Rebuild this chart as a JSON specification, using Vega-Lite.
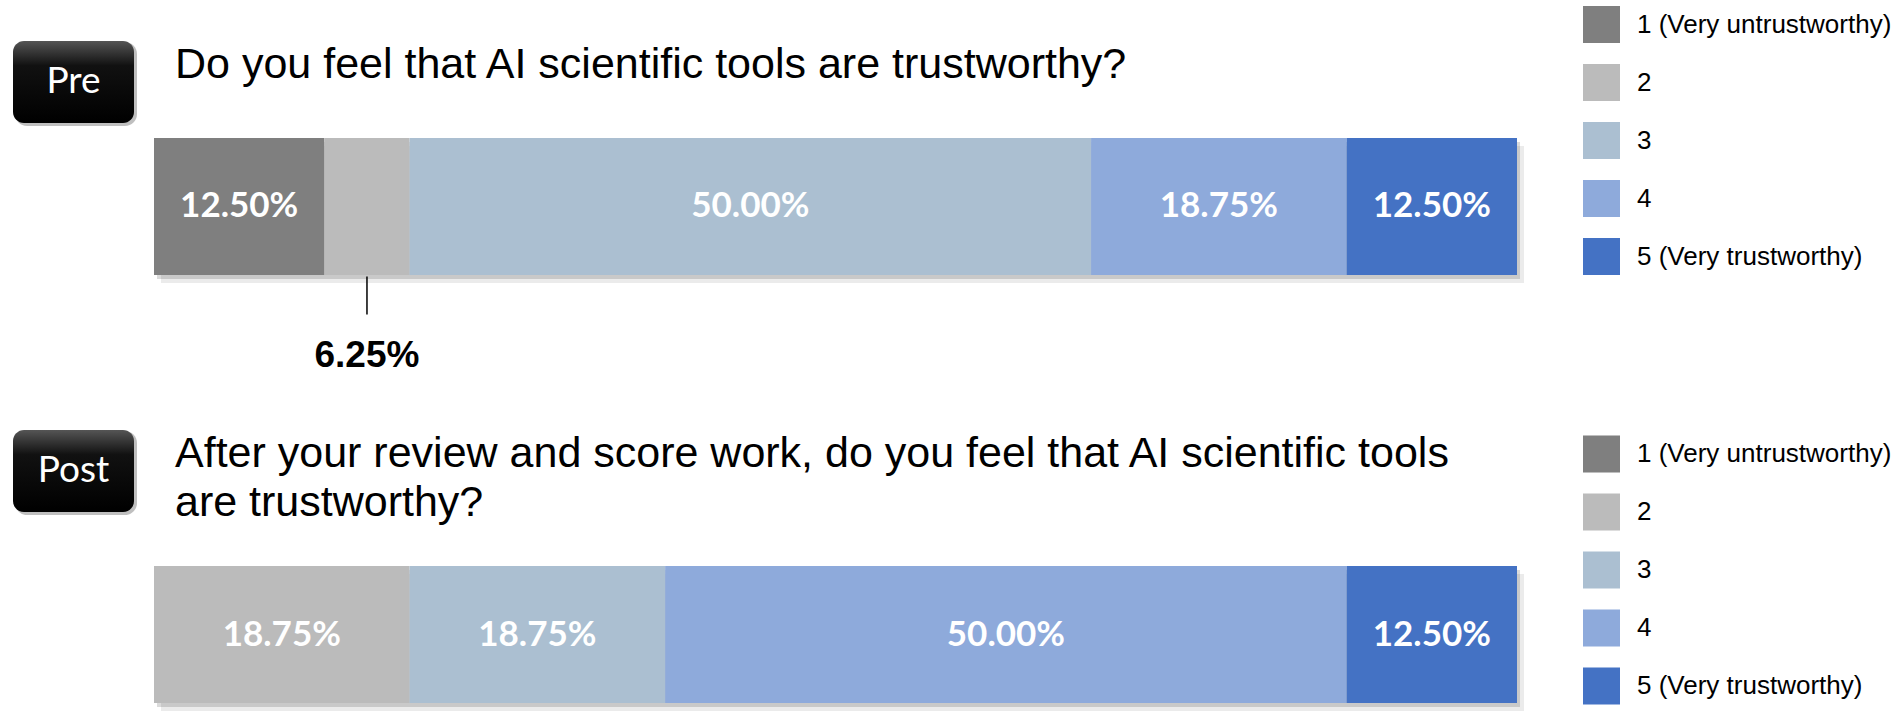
{
  "$schema": "https://vega.github.io/schema/vega-lite/v6.json",
  "width": 1363,
  "height": 565,
  "autosize": {"type": "none"},
  "padding": {"left": 154, "top": 138, "right": 385, "bottom": 18},
  "background": "white",
  "config": {"view": {"stroke": null}},
  "datasets": {
    "responses": [
      {"phase": "Pre", "score": 1, "level": "1 (Very untrustworthy)", "pct": 0.125},
      {"phase": "Pre", "score": 2, "level": "2", "pct": 0.0625},
      {"phase": "Pre", "score": 3, "level": "3", "pct": 0.5},
      {"phase": "Pre", "score": 4, "level": "4", "pct": 0.1875},
      {"phase": "Pre", "score": 5, "level": "5 (Very trustworthy)", "pct": 0.125},
      {"phase": "Post", "score": 2, "level": "2", "pct": 0.1875},
      {"phase": "Post", "score": 3, "level": "3", "pct": 0.1875},
      {"phase": "Post", "score": 4, "level": "4", "pct": 0.5},
      {"phase": "Post", "score": 5, "level": "5 (Very trustworthy)", "pct": 0.125}
    ],
    "phases": [
      {"phase": "Pre", "question": "Do you feel that AI scientific tools are trustworthy?"},
      {"phase": "Post", "question": "After your review and score work, do you feel that AI scientific tools\nare trustworthy?"}
    ]
  },
  "layer": [
    {
      "data": {"name": "phases"},
      "mark": {"type": "bar", "color": "#000000", "opacity": 0.08, "xOffset": 7, "x2Offset": 7, "yOffset": 8},
      "encoding": {
        "x": {"datum": 0, "type": "quantitative", "scale": {"domain": [0, 1], "nice": false, "zero": true}, "axis": null},
        "x2": {"datum": 1},
        "y": {"field": "phase", "type": "nominal", "scale": {"domain": ["Pre", "Post"], "paddingInner": 0.68, "paddingOuter": 0}, "axis": null}
      }
    },
    {
      "data": {"name": "phases"},
      "mark": {"type": "bar", "color": "#000000", "opacity": 0.14, "xOffset": 3, "x2Offset": 3, "yOffset": 4},
      "encoding": {
        "x": {"datum": 0, "type": "quantitative", "axis": null},
        "x2": {"datum": 1},
        "y": {"field": "phase", "type": "nominal", "axis": null}
      }
    },
    {
      "data": {"name": "responses"},
      "transform": [{"filter": "datum.phase === 'Pre'"}],
      "mark": {"type": "bar"},
      "encoding": {
        "x": {"field": "pct", "type": "quantitative", "stack": "zero", "axis": null},
        "y": {"field": "phase", "type": "nominal", "axis": null},
        "order": {"field": "score", "type": "quantitative"},
        "color": {
          "field": "level", "type": "nominal",
          "scale": {"domain": ["1 (Very untrustworthy)", "2", "3", "4", "5 (Very trustworthy)"], "range": ["#7f7f7f", "#bbbbbb", "#abbfd1", "#8eaadb", "#4472c4"]},
          "legend": {"orient": "none", "legendX": 1429, "legendY": -132, "title": null, "padding": 0, "symbolType": "square", "symbolSize": 1369, "symbolStrokeWidth": 0, "symbolOpacity": 1, "rowPadding": 21, "labelFont": "Liberation Sans", "labelFontSize": 26, "labelColor": "#000000", "labelOffset": 17, "labelLimit": 400}
        }
      }
    },
    {
      "data": {"name": "responses"},
      "transform": [{"filter": "datum.phase === 'Post'"}],
      "mark": {"type": "bar"},
      "encoding": {
        "x": {"field": "pct", "type": "quantitative", "stack": "zero", "axis": null},
        "y": {"field": "phase", "type": "nominal", "axis": null},
        "order": {"field": "score", "type": "quantitative"},
        "color": {
          "field": "level", "type": "nominal",
          "scale": {"domain": ["1 (Very untrustworthy)", "2", "3", "4", "5 (Very trustworthy)"], "range": ["#7f7f7f", "#bbbbbb", "#abbfd1", "#8eaadb", "#4472c4"]},
          "legend": {"orient": "none", "legendX": 1429, "legendY": 297.5, "title": null, "padding": 0, "symbolType": "square", "symbolSize": 1369, "symbolStrokeWidth": 0, "symbolOpacity": 1, "rowPadding": 21, "labelFont": "Liberation Sans", "labelFontSize": 26, "labelColor": "#000000", "labelOffset": 17, "labelLimit": 400}
        }
      }
    },
    {
      "data": {"name": "responses"},
      "mark": {"type": "text", "font": "Lato", "fontWeight": "bold", "fontSize": 35, "color": "#ffffff", "align": "center", "baseline": "middle"},
      "encoding": {
        "x": {"field": "pct", "type": "quantitative", "stack": "zero", "bandPosition": 0.5, "axis": null},
        "y": {"field": "phase", "type": "nominal", "axis": null},
        "order": {"field": "score", "type": "quantitative"},
        "detail": {"field": "score", "type": "nominal"},
        "text": {"condition": {"test": "!(datum.phase === 'Pre' && datum.score === 2)", "field": "pct", "type": "quantitative", "format": ".2%"}, "value": ""}
      }
    },
    {
      "data": {"name": "responses"},
      "mark": {"type": "rule", "color": "#000000", "strokeWidth": 1.5, "yOffset": 70, "y2Offset": 108},
      "encoding": {
        "x": {"field": "pct", "type": "quantitative", "stack": "zero", "bandPosition": 0.5, "axis": null},
        "y": {"field": "phase", "type": "nominal", "axis": null},
        "y2": {"field": "phase"},
        "order": {"field": "score", "type": "quantitative"},
        "detail": {"field": "score", "type": "nominal"},
        "opacity": {"condition": {"test": "datum.phase === 'Pre' && datum.score === 2", "value": 1}, "value": 0}
      }
    },
    {
      "data": {"name": "responses"},
      "mark": {"type": "text", "font": "Liberation Sans", "fontWeight": "bold", "fontSize": 37, "color": "#000000", "align": "center", "baseline": "middle", "dy": 150},
      "encoding": {
        "x": {"field": "pct", "type": "quantitative", "stack": "zero", "bandPosition": 0.5, "axis": null},
        "y": {"field": "phase", "type": "nominal", "axis": null},
        "order": {"field": "score", "type": "quantitative"},
        "detail": {"field": "score", "type": "nominal"},
        "text": {"condition": {"test": "datum.phase === 'Pre' && datum.score === 2", "field": "pct", "type": "quantitative", "format": ".2%"}, "value": ""}
      }
    },
    {
      "data": {"name": "phases"},
      "transform": [{"filter": "datum.phase === 'Pre'"}],
      "mark": {"type": "text", "font": "Liberation Sans", "fontSize": 43, "lineHeight": 49, "lineBreak": "\n", "color": "#000000", "align": "left", "baseline": "alphabetic", "dx": 21, "dy": -60},
      "encoding": {
        "x": {"datum": 0, "type": "quantitative", "axis": null},
        "y": {"field": "phase", "type": "nominal", "bandPosition": 0, "axis": null},
        "text": {"field": "question", "type": "nominal"}
      }
    },
    {
      "data": {"name": "phases"},
      "transform": [{"filter": "datum.phase === 'Post'"}],
      "mark": {"type": "text", "font": "Liberation Sans", "fontSize": 43, "lineHeight": 49, "lineBreak": "\n", "color": "#000000", "align": "left", "baseline": "alphabetic", "dx": 21, "dy": -99},
      "encoding": {
        "x": {"datum": 0, "type": "quantitative", "axis": null},
        "y": {"field": "phase", "type": "nominal", "bandPosition": 0, "axis": null},
        "text": {"field": "question", "type": "nominal"}
      }
    },
    {
      "data": {"name": "phases"},
      "transform": [{"filter": "datum.phase === 'Pre'"}],
      "layer": [
        {
          "mark": {"type": "bar", "color": "#000000", "opacity": 0.25, "cornerRadius": 12, "height": 84, "xOffset": -139, "x2Offset": -17, "yOffset": -122.5},
          "encoding": {
            "x": {"datum": 0, "type": "quantitative", "axis": null},
            "x2": {"datum": 0},
            "y": {"field": "phase", "type": "nominal", "axis": null}
          }
        },
        {
          "mark": {"type": "bar", "cornerRadius": 11, "height": 82, "xOffset": -141, "x2Offset": -20, "yOffset": -124.5,
            "color": {"gradient": "linear", "x1": 0, "y1": 0, "x2": 0, "y2": 1, "stops": [{"offset": 0, "color": "#555555"}, {"offset": 0.3, "color": "#111111"}, {"offset": 1, "color": "#000000"}]}},
          "encoding": {
            "x": {"datum": 0, "type": "quantitative", "axis": null},
            "x2": {"datum": 0},
            "y": {"field": "phase", "type": "nominal", "axis": null}
          }
        },
        {
          "mark": {"type": "text", "font": "Lato", "fontSize": 37, "color": "#ffffff", "align": "center", "baseline": "middle", "dx": -80.5, "dy": -124.5},
          "encoding": {
            "x": {"datum": 0, "type": "quantitative", "axis": null},
            "y": {"field": "phase", "type": "nominal", "axis": null},
            "text": {"field": "phase", "type": "nominal"}
          }
        }
      ]
    },
    {
      "data": {"name": "phases"},
      "transform": [{"filter": "datum.phase === 'Post'"}],
      "layer": [
        {
          "mark": {"type": "bar", "color": "#000000", "opacity": 0.25, "cornerRadius": 12, "height": 84, "xOffset": -139, "x2Offset": -17, "yOffset": -161.5},
          "encoding": {
            "x": {"datum": 0, "type": "quantitative", "axis": null},
            "x2": {"datum": 0},
            "y": {"field": "phase", "type": "nominal", "axis": null}
          }
        },
        {
          "mark": {"type": "bar", "cornerRadius": 11, "height": 82, "xOffset": -141, "x2Offset": -20, "yOffset": -163.5,
            "color": {"gradient": "linear", "x1": 0, "y1": 0, "x2": 0, "y2": 1, "stops": [{"offset": 0, "color": "#555555"}, {"offset": 0.3, "color": "#111111"}, {"offset": 1, "color": "#000000"}]}},
          "encoding": {
            "x": {"datum": 0, "type": "quantitative", "axis": null},
            "x2": {"datum": 0},
            "y": {"field": "phase", "type": "nominal", "axis": null}
          }
        },
        {
          "mark": {"type": "text", "font": "Lato", "fontSize": 37, "color": "#ffffff", "align": "center", "baseline": "middle", "dx": -80.5, "dy": -163.5},
          "encoding": {
            "x": {"datum": 0, "type": "quantitative", "axis": null},
            "y": {"field": "phase", "type": "nominal", "axis": null},
            "text": {"field": "phase", "type": "nominal"}
          }
        }
      ]
    }
  ],
  "resolve": {"scale": {"color": "independent"}}
}
